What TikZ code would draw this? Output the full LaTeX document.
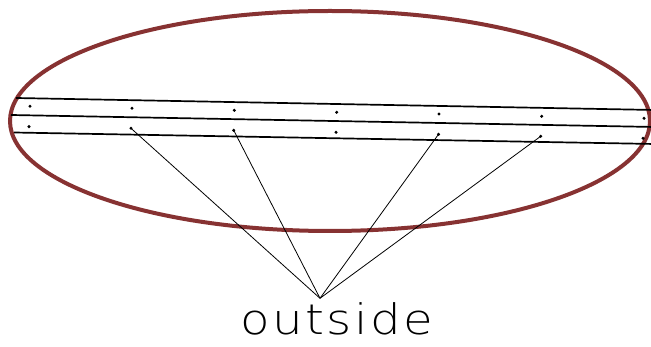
\documentclass[tikz,border=0pt]{standalone}
\usepackage{fontspec}
\newfontfamily\outfont[LetterSpace=6,FakeStretch=1.15]{DejaVu Sans ExtraLight}
\definecolor{ringred}{RGB}{135,50,50}
\begin{document}
\begin{tikzpicture}[x=1pt,y=-1pt,
  dot/.style={circle,fill=black,inner sep=0pt,minimum size=3.4pt},
  band/.style={draw=black,line width=1.7pt},
  link/.style={draw=black,line width=0.8pt},
  ring/.style={draw=ringred,line width=4pt}]
\useasboundingbox (0,0) rectangle (651,347);
% ellipse
\draw[ring] (330,121) ellipse [x radius=320, y radius=110];
% band lines
\coordinate (l1a) at (16,98);   \coordinate (l1b) at (655,110);
\coordinate (l2a) at (11,115);  \coordinate (l2b) at (655,127);
\coordinate (l3a) at (14,132.5);\coordinate (l3b) at (655,144);
\draw[band] (l1a) -- (l1b);
\draw[band] (l2a) -- (l2b);
\draw[band] (l3a) -- (l3b);
% dots top row
\node[dot] (t1) at (30,106.3) {};
\node[dot] (t2) at (132,108.3) {};
\node[dot] (t3) at (234.3,110.3) {};
\node[dot] (t4) at (336.7,112.3) {};
\node[dot] (t5) at (439,114) {};
\node[dot] (t6) at (541.7,116.3) {};
\node[dot] (t7) at (644,118.3) {};
% dots bottom row
\node[dot] (b1) at (29,126.7) {};
\node[dot] (b2) at (131,128.3) {};
\node[dot] (b3) at (233.7,130.3) {};
\node[dot] (b4) at (336,132.3) {};
\node[dot] (b5) at (438.5,134.3) {};
\node[dot] (b6) at (540.7,136.3) {};
\node[dot] (b7) at (643,138.3) {};
% apex and label
\coordinate (apex) at (320,298.3);
\node[anchor=base west,inner sep=0pt,font=\outfont\fontsize{42}{42}\selectfont] (out) at (240,335) {outside};
\draw[link] (apex) -- (b2.center);
\draw[link] (apex) -- (b3.center);
\draw[link] (apex) -- (b5.center);
\draw[link] (apex) -- (b6.center);
\end{tikzpicture}
\end{document}
